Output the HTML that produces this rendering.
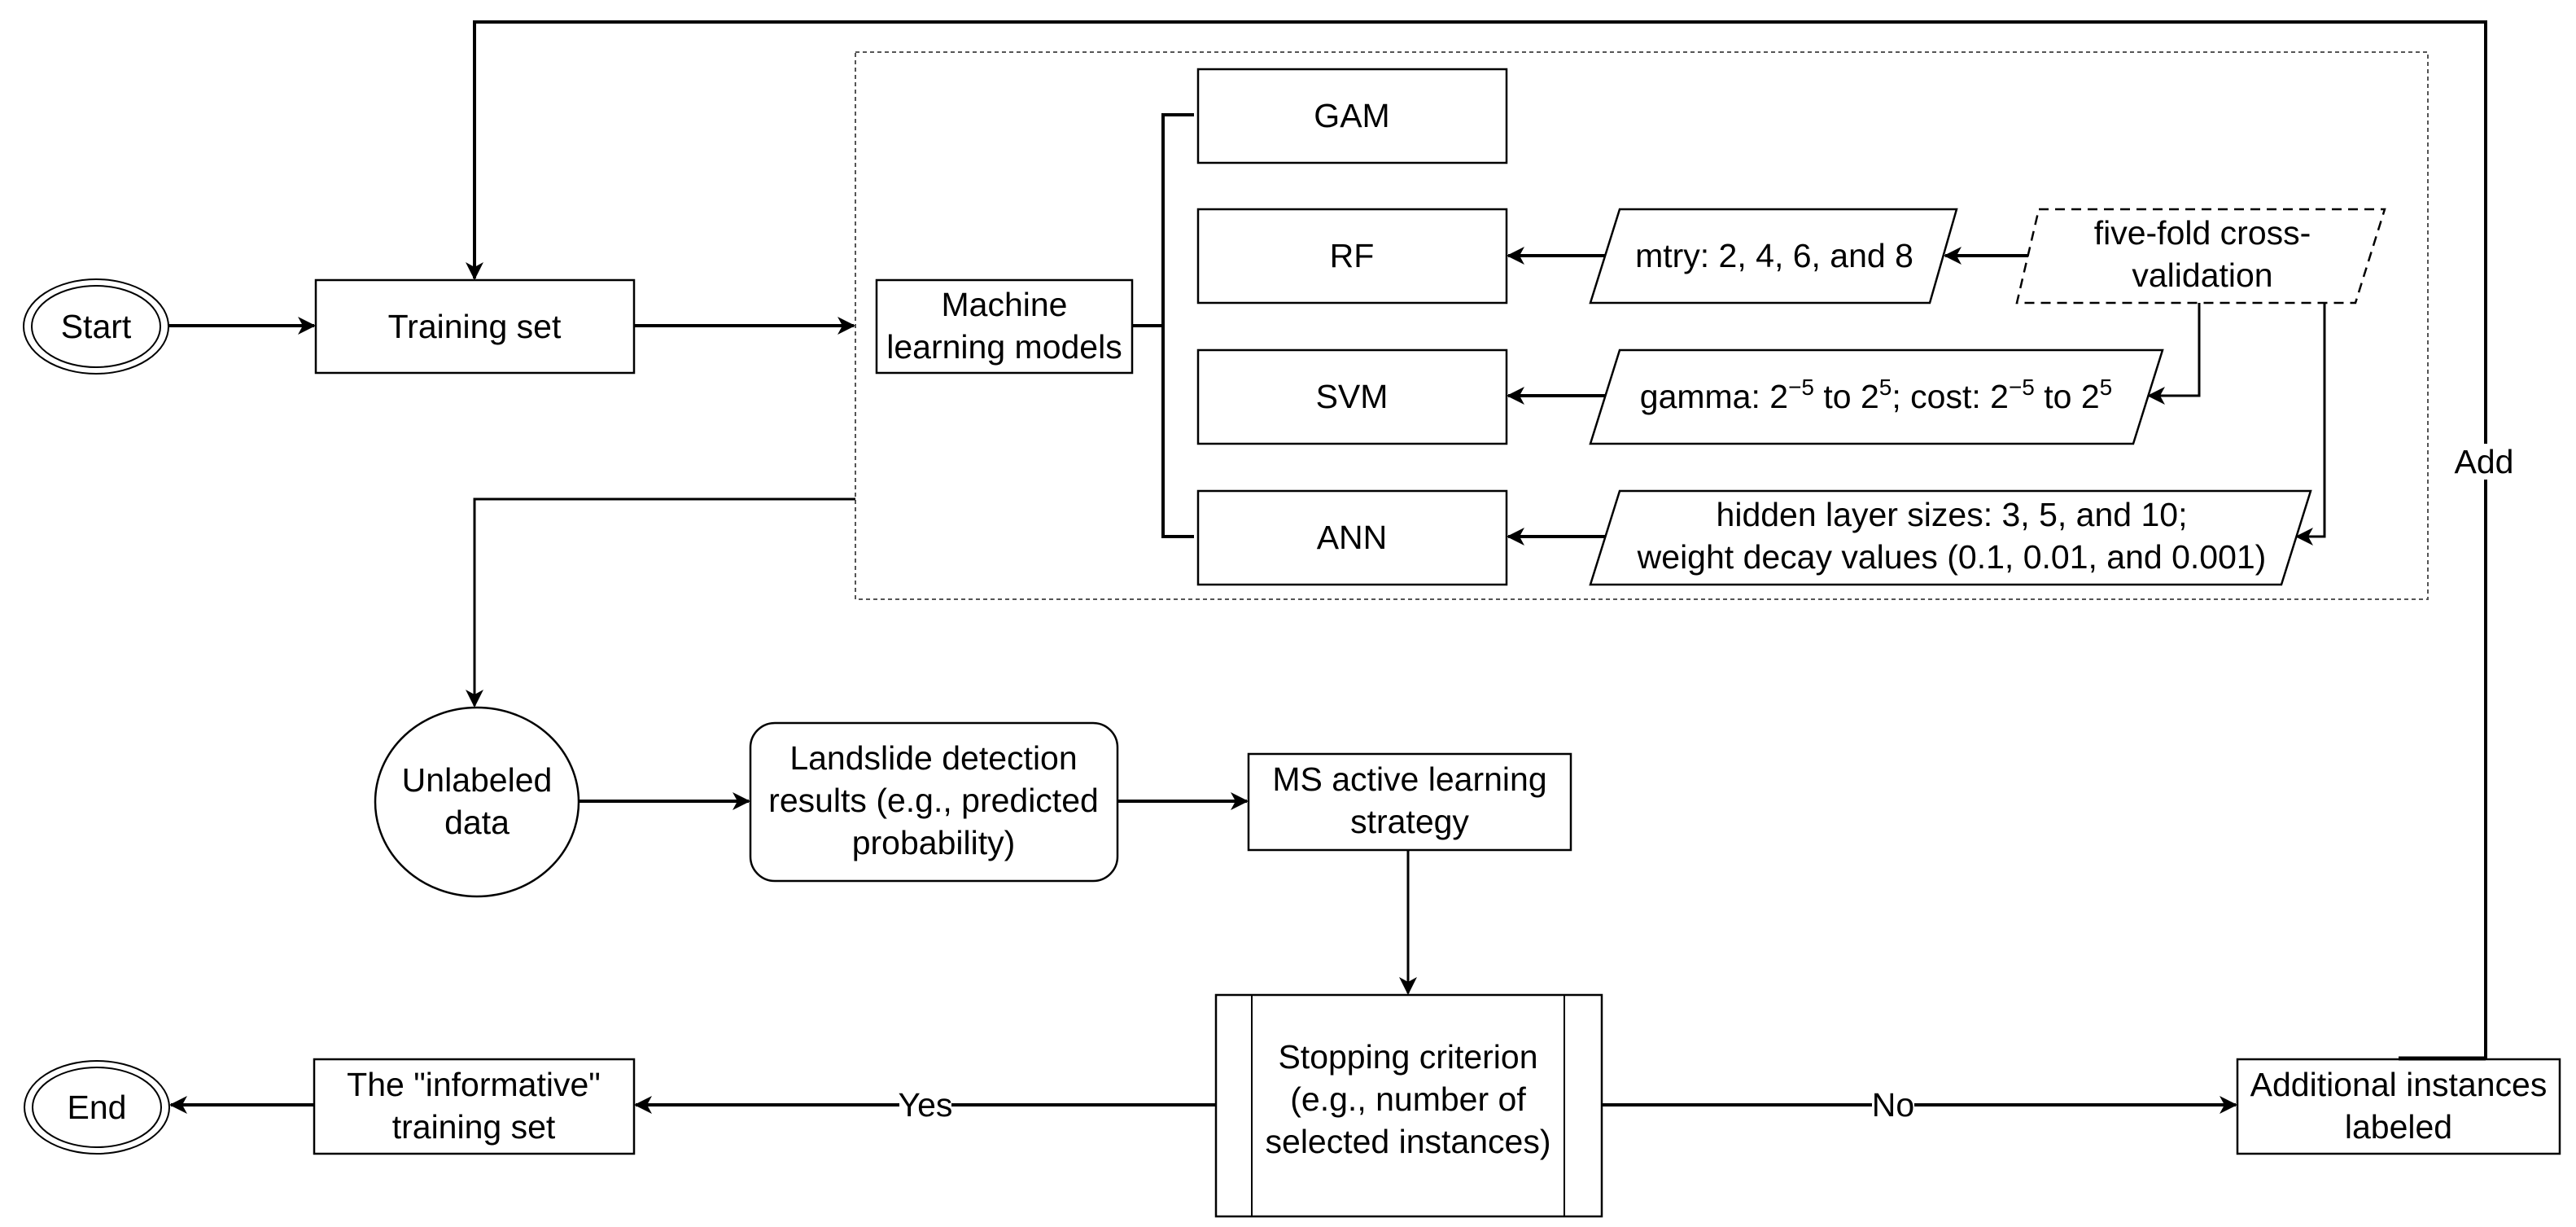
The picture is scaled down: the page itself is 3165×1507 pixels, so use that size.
<!DOCTYPE html>
<html><head><meta charset="utf-8"><style>
html,body{margin:0;padding:0;background:#fff;}
svg{display:block;}
text{font-family:"Liberation Sans",Arial,sans-serif;font-size:41px;fill:#000;text-anchor:middle;}
</style></head><body>
<svg width="3165" height="1507" viewBox="0 0 3165 1507" xmlns="http://www.w3.org/2000/svg">
<defs>
<marker id="a" markerWidth="12" markerHeight="12" refX="10" refY="6" orient="auto" markerUnits="userSpaceOnUse" viewBox="0 0 12 12">
<path d="M0,0 L12,6 L0,12 L3,6 Z" fill="#000"/>
</marker>
<marker id="b" markerWidth="22" markerHeight="22" refX="20" refY="11" orient="auto" markerUnits="userSpaceOnUse" viewBox="0 0 22 22">
<path d="M0,0 L22,11 L0,22 L6,11 Z" fill="#000"/>
</marker>
</defs>
<g fill="none" stroke="#000">
<!-- top loop -->
<polyline points="3054,1301 3054,27 583,27 583,342" stroke-width="4" marker-end="url(#b)"/>
<line x1="2947" y1="1300" x2="3054" y2="1300" stroke-width="5"/>
<!-- container -->
<rect x="1051" y="64" width="1932" height="672" stroke="#555" stroke-width="2" stroke-dasharray="5,4"/>
<!-- start -->
<ellipse cx="118" cy="401" rx="89" ry="58" stroke-width="2"/>
<ellipse cx="118" cy="401" rx="79" ry="50" stroke-width="2"/>
<line x1="207" y1="400" x2="386" y2="400" stroke-width="4" marker-end="url(#b)"/>
<rect x="388" y="344" width="391" height="114" stroke-width="2.5"/>
<line x1="779" y1="400" x2="1049" y2="400" stroke-width="4" marker-end="url(#b)"/>
<rect x="1077" y="344" width="314" height="114" stroke-width="2.5"/>
<!-- bracket -->
<polyline points="1391,400 1429,400" stroke-width="4"/>
<polyline points="1467,141 1429,141 1429,659 1467,659" stroke-width="4"/>
<!-- model boxes -->
<rect x="1472" y="85" width="379" height="115" stroke-width="2.5"/>
<rect x="1472" y="257" width="379" height="115" stroke-width="2.5"/>
<rect x="1472" y="430" width="379" height="115" stroke-width="2.5"/>
<rect x="1472" y="603" width="379" height="115" stroke-width="2.5"/>
<!-- parallelograms -->
<polygon points="1990,257 2404,257 2371,372 1954,372" stroke-width="2.5"/>
<polygon points="2505,257 2930,257 2894,372 2478,372" stroke-width="2.5" stroke-dasharray="12,8"/>
<polygon points="1990,430 2657,430 2621,545 1954,545" stroke-width="2.5"/>
<polygon points="1990,603 2839,603 2803,718 1954,718" stroke-width="2.5"/>
<!-- arrows -->
<line x1="1972" y1="314" x2="1853" y2="314" stroke-width="4" marker-end="url(#b)"/>
<line x1="2492" y1="314" x2="2390" y2="314" stroke-width="4" marker-end="url(#b)"/>
<line x1="1972" y1="486" x2="1853" y2="486" stroke-width="4" marker-end="url(#b)"/>
<line x1="1972" y1="659" x2="1853" y2="659" stroke-width="4" marker-end="url(#b)"/>
<polyline points="2702,372 2702,486 2640,486" stroke-width="3" marker-end="url(#b)"/>
<polyline points="2856,372 2856,659 2822,659" stroke-width="3" marker-end="url(#b)"/>
<!-- to unlabeled -->
<polyline points="1051,613 583,613 583,867" stroke-width="3" marker-end="url(#b)"/>
<ellipse cx="586" cy="985" rx="125" ry="116" stroke-width="2.5"/>
<line x1="711" y1="984" x2="920" y2="984" stroke-width="4" marker-end="url(#b)"/>
<rect x="922" y="888" width="451" height="194" rx="30" stroke-width="2.5"/>
<line x1="1373" y1="984" x2="1532" y2="984" stroke-width="4" marker-end="url(#b)"/>
<rect x="1534" y="926" width="396" height="118" stroke-width="2.5"/>
<line x1="1730" y1="1044" x2="1730" y2="1220" stroke-width="3" marker-end="url(#b)"/>
<rect x="1494" y="1222" width="474" height="272" stroke-width="2.5"/>
<line x1="1538" y1="1222" x2="1538" y2="1494" stroke-width="2"/>
<line x1="1922" y1="1222" x2="1922" y2="1494" stroke-width="2"/>
<line x1="1494" y1="1357" x2="781" y2="1357" stroke-width="4" marker-end="url(#b)"/>
<rect x="386" y="1301" width="393" height="116" stroke-width="2.5"/>
<line x1="386" y1="1357" x2="210" y2="1357" stroke-width="4" marker-end="url(#b)"/>
<ellipse cx="119" cy="1360" rx="89" ry="57" stroke-width="2"/>
<ellipse cx="119" cy="1360" rx="79" ry="49" stroke-width="2"/>
<line x1="1968" y1="1357" x2="2747" y2="1357" stroke-width="4" marker-end="url(#b)"/>
<rect x="2749" y="1301" width="396" height="116" stroke-width="2.5"/>
</g>
<!-- label backgrounds -->
<rect x="1105" y="1335" width="64" height="44" fill="#fff"/>
<rect x="2300" y="1335" width="52" height="44" fill="#fff"/>
<rect x="3010" y="545" width="86" height="44" fill="#fff"/>
<!-- text -->
<text x="118" y="415">Start</text>
<text x="583" y="415">Training set</text>
<text x="1234" y="388">Machine</text>
<text x="1234" y="440">learning models</text>
<text x="1661" y="156">GAM</text>
<text x="1661" y="328">RF</text>
<text x="1661" y="501">SVM</text>
<text x="1661" y="674">ANN</text>
<text x="2180" y="328">mtry: 2, 4, 6, and 8</text>
<text x="2706" y="300">five-fold cross-</text>
<text x="2706" y="352">validation</text>
<text x="2305" y="501">gamma: 2<tspan font-size="28" dy="-16">−5</tspan><tspan dy="16"> to 2</tspan><tspan font-size="28" dy="-16">5</tspan><tspan dy="16">; cost: 2</tspan><tspan font-size="28" dy="-16">−5</tspan><tspan dy="16"> to 2</tspan><tspan font-size="28" dy="-16">5</tspan></text>
<text x="2398" y="646">hidden layer sizes: 3, 5, and 10;</text>
<text x="2398" y="698">weight decay values (0.1, 0.01, and 0.001)</text>
<text x="3052" y="581">Add</text>
<text x="586" y="972">Unlabeled</text>
<text x="586" y="1024">data</text>
<text x="1147" y="945">Landslide detection</text>
<text x="1147" y="997">results (e.g., predicted</text>
<text x="1147" y="1049">probability)</text>
<text x="1732" y="971">MS active learning</text>
<text x="1732" y="1023">strategy</text>
<text x="1730" y="1312">Stopping criterion</text>
<text x="1730" y="1364">(e.g., number of</text>
<text x="1730" y="1416">selected instances)</text>
<text x="1137" y="1371">Yes</text>
<text x="2326" y="1371">No</text>
<text x="582" y="1346">The "informative"</text>
<text x="582" y="1398">training set</text>
<text x="119" y="1374">End</text>
<text x="2947" y="1346">Additional instances</text>
<text x="2947" y="1398">labeled</text>
</svg>
</body></html>
